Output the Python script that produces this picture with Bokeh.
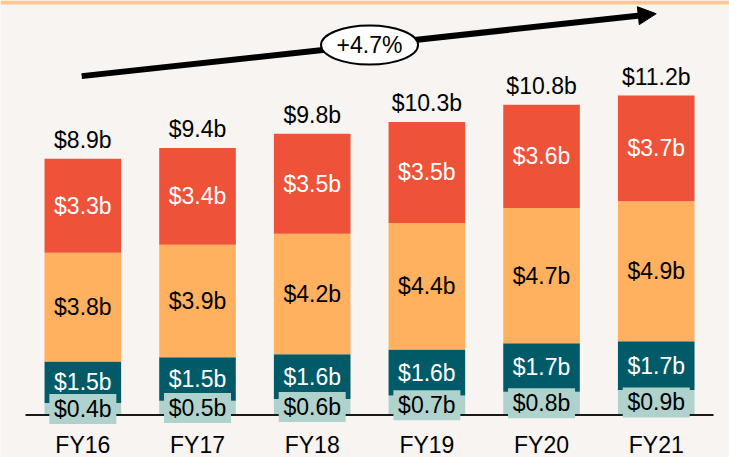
import numpy as np
from bokeh.plotting import figure
from bokeh.models import Range1d, Arrow, NormalHead, BoxAnnotation
from bokeh.core.properties import value
from bokeh.embed import file_html
from bokeh.resources import INLINE

# ---- data (segment values estimated from bar geometry; labels as printed) ----
years = ["FY16", "FY17", "FY18", "FY19", "FY20", "FY21"]
seg_light_teal = [0.42, 0.50, 0.56, 0.68, 0.82, 0.88]
seg_dark_teal = [1.46, 1.53, 1.57, 1.62, 1.70, 1.71]
seg_orange = [3.81, 3.94, 4.23, 4.44, 4.74, 4.91]
seg_red = [3.30, 3.40, 3.51, 3.54, 3.63, 3.71]
totals = [8.9, 9.4, 9.8, 10.3, 10.8, 11.2]
cagr_label = "+4.7%"

# ---- styles ----
BG = "#F7F4F1"
BAND = "#FDC890"
C_LT = "#AFD3CC"
C_DT = "#015A67"
C_OR = "#FFB160"
C_RD = "#EE5238"
FONT = value("Liberation Sans")
FS = "23px"

segments = [seg_light_teal, seg_dark_teal, seg_orange, seg_red]
colors = [C_LT, C_DT, C_OR, C_RD]
text_colors = ["black", "white", "black", "white"]

xs = np.arange(len(years)) + 0.5  # category centres

p = figure(width=729, height=457,
           x_range=Range1d(-0.218, 6.139),
           y_range=Range1d(-1.4912, 14.544),
           x_axis_location=None, y_axis_location=None,
           toolbar_location=None, output_backend="svg",
           min_border_left=0, min_border_right=0,
           min_border_top=0, min_border_bottom=0,
           background_fill_color=BG, border_fill_color=BG,
           outline_line_color=None)
p.xgrid.grid_line_color = None
p.ygrid.grid_line_color = None

# top accent band
p.add_layout(BoxAnnotation(bottom=14.40, fill_color=BAND, fill_alpha=1.0,
                           line_color=None, level="underlay"))

bottom = np.zeros(len(years))
mids = []
for seg, col in zip(segments, colors):
    seg = np.array(seg)
    top = bottom + seg
    p.vbar(x=xs, bottom=bottom, top=top, width=0.668,
           fill_color=col, line_color=None)
    mids.append(bottom + seg / 2)
    bottom = top
stack_top = bottom

# baseline
p.segment(x0=[0], x1=[len(years)], y0=[0], y1=[0],
          line_color="#1A1A1A", line_width=2)

# label boxes for the small bottom segment
p.rect(x=xs, y=mids[0], width=67, height=30,
       width_units="screen", height_units="screen",
       fill_color=C_LT, line_color=None)

for seg, mid, tc in zip(segments, mids, text_colors):
    p.text(x=xs, y=mid, text=[f"${v:.1f}b" for v in seg],
           text_font=FONT, text_font_size=FS, text_color=tc,
           text_align="center", text_baseline="middle")

# totals
p.text(x=xs, y=stack_top, y_offset=-19,
       text=[f"${v:.1f}b" for v in totals],
       text_font=FONT, text_font_size=FS, text_color="black",
       text_align="center", text_baseline="middle")

# category labels
p.text(x=xs, y=[0] * len(years), y_offset=30, text=years,
       text_font=FONT, text_font_size=FS, text_color="black",
       text_align="center", text_baseline="middle")

# growth arrow
arrow = Arrow(x_start=0.49, y_start=11.89, x_end=5.5, y_end=14.08,
              line_width=6, line_color="black",
              end=NormalHead(size=18, fill_color="black",
                             line_color="black", line_width=1),
              level="underlay")
p.add_layout(arrow)

p.ellipse(x=[3.0], y=[12.98], width=97, height=39,
          width_units="screen", height_units="screen",
          fill_color="white", line_color="black", line_width=2)
p.text(x=[3.0], y=[12.98], text=[cagr_label],
       text_font=FONT, text_font_size=FS, text_color="black",
       text_align="center", text_baseline="middle")

html = file_html(p, INLINE, title="chart")
open("out.html", "w").write(html)
